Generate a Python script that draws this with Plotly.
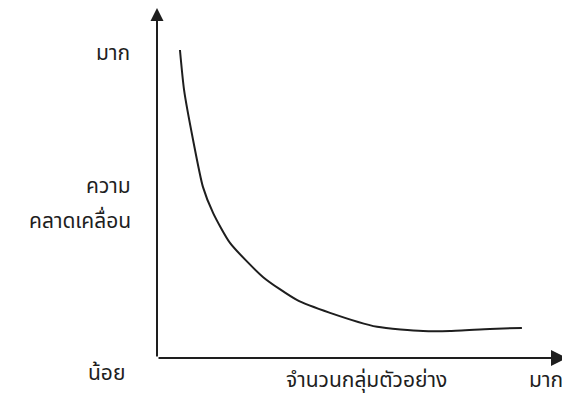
import plotly.graph_objects as go

# Curve data (sample size vs. error, arbitrary units 0-100)
sample_size = [5.6, 6.6, 8.8, 11.2, 13.7, 17.8, 25.9, 34.1, 42.2, 53.7, 64.9, 71.5, 81.2, 89.0]
error_level = [88.0, 76.6, 62.3, 48.9, 41.4, 32.9, 23.1, 16.6, 12.9, 8.9, 7.7, 7.7, 8.3, 8.6]

y_high_label = "มาก"
y_title_lines = ["ความ", "คลาดเคลื่อน"]
y_low_label = "น้อย"
x_title = "จำนวนกลุ่มตัวอย่าง"
x_high_label = "มาก"

ink = "#1e1e1e"
font_family = "Noto Sans Thai, Loma, Garuda, Noto Sans, DejaVu Sans, sans-serif"

fig = go.Figure()
fig.add_trace(go.Scatter(
    x=sample_size, y=error_level, mode="lines",
    line=dict(color=ink, width=2, shape="spline", smoothing=0.6),
    hoverinfo="skip", showlegend=False,
))

ann = []
# axes with arrows
ann.append(dict(x=100, y=0, ax=0, ay=0, xref="x", yref="y", axref="x", ayref="y",
                showarrow=True, arrowhead=2, arrowsize=1.6, arrowwidth=2, arrowcolor=ink, text=""))
ann.append(dict(x=0, y=100, ax=0, ay=0, xref="x", yref="y", axref="x", ayref="y",
                showarrow=True, arrowhead=2, arrowsize=1.3, arrowwidth=2, arrowcolor=ink, text=""))

txt = dict(showarrow=False, xref="paper", yref="paper",
           font=dict(family=font_family, size=21, color=ink))
ann.append(dict(text=y_high_label, x=-0.061, y=0.869, xanchor="right", yanchor="middle", **txt))
ann.append(dict(text=y_title_lines[0], x=-0.0585, y=0.489, xanchor="right", yanchor="middle", **txt))
ann.append(dict(text=y_title_lines[1], x=-0.0585, y=0.389, xanchor="right", yanchor="middle", **txt))
ann.append(dict(text=y_low_label, x=-0.124, y=-0.043, xanchor="center", yanchor="middle", **txt))
ann.append(dict(text=x_title, x=0.512, y=-0.115, xanchor="center", yanchor="bottom", **txt))
ann.append(dict(text=x_high_label, x=0.995, y=-0.115, xanchor="right", yanchor="bottom", **txt))

fig.update_layout(
    width=570, height=400,
    margin=dict(l=149, r=11, t=0, b=50),
    paper_bgcolor="white", plot_bgcolor="white",
    xaxis=dict(range=[0, 100], visible=False, fixedrange=True),
    yaxis=dict(range=[0, 100], visible=False, fixedrange=True),
    annotations=ann,
)
fig.write_html("out.html")
